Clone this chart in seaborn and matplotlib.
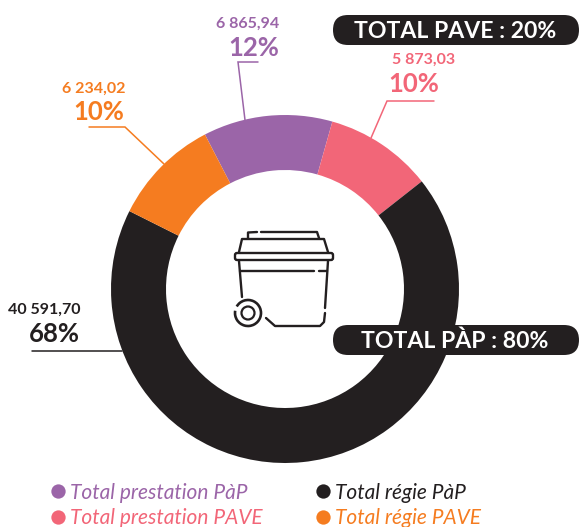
import matplotlib
matplotlib.use("Agg")
import matplotlib.pyplot as plt
import seaborn as sns
from matplotlib.lines import Line2D
from matplotlib.patches import Arc, Circle, FancyBboxPatch

# values, clockwise from the purple slice
categories = ["Total prestation PàP", "Total prestation PAVE", "Total régie PàP", "Total régie PAVE"]
percents = [12, 10, 68, 10]
value_labels = ["6 865,94", "5 873,03", "40 591,70", "6 234,02"]
colors = ["#9b65a8", "#f26678", "#231f20", "#f57c20"]
totals = ["TOTAL PAVE : 20%", "TOTAL PÀP : 80%"]

W, H = 579, 527
sns.set_theme(style="white")
plt.rcParams["font.family"] = ["Lato", "DejaVu Sans"]

fig = plt.figure(figsize=(W / 100, H / 100), dpi=100)
ax = fig.add_axes([0, 0, 1, 1])


def py(y):
    # picture coordinates have y going down
    return H - y


cx, cy, radius, ring = 285, py(289), 174, 55
ax.pie(percents, colors=colors, center=(cx, cy), radius=radius, startangle=117.4, counterclock=False,
       wedgeprops={"width": ring, "linewidth": 0}, frame=True)
ax.set_xlim(0, W)
ax.set_ylim(0, H)
ax.set_aspect("equal")
ax.axis("off")

# leader lines, one per slice
leaders = [
    [(245, 120), (238, 62), (258, 62)],
    [(371, 138), (387, 101), (434, 101)],
    [(122, 350.5), (32, 350.5)],
    [(164, 164), (125, 127), (89, 127)],
]
for pts, c in zip(leaders, colors):
    ax.plot([p[0] for p in pts], [py(p[1]) for p in pts], color=c, lw=1.1, solid_joinstyle="miter")

# value + percent labels (right edge and centre line of each)
label_pos = [(279, 24, 279, 47.5), (455, 60, 439, 84.5), (80, 310, 80, 333.5), (125, 89, 124, 112.5)]
for i, (x1, y1, x2, y2) in enumerate(label_pos):
    ax.text(x1, py(y1), value_labels[i], color=colors[i], fontsize=11.5, fontweight="bold", ha="right", va="center")
    ax.text(x2, py(y2), f"{percents[i]}%", color=colors[i], fontsize=18.5, fontweight="bold", ha="right", va="center")

# total pills
for label, y in zip(totals, [30, 340]):
    ax.add_patch(FancyBboxPatch((333, py(y) - 15), 246, 30, boxstyle="round,pad=0,rounding_size=15",
                                fc="#231f20", ec="none", zorder=3))
    ax.text(455, py(y + 1.5), label, color="white", fontsize=16.6, fontweight="bold", ha="center", va="center", zorder=4)

# bin icon in the middle of the ring
k = "#231f20"
icon = [
    [(248, 238), (248, 232.5), (257, 232)],
    [(261, 232), (317, 232), (319, 238)],
    [(239, 252), (242, 239), (324, 239), (328, 252)],
    [(240, 271), (314, 271)],
    [(319, 271), (327, 271)],
    [(239, 261), (242, 297)],
    [(328, 261), (325, 308)],
    [(325, 313), (324, 322), (320, 326), (275, 326), (266, 318)],
]
for pts in icon:
    ax.plot([p[0] for p in pts], [py(p[1]) for p in pts], color=k, lw=1.7, solid_capstyle="round")
ax.add_patch(FancyBboxPatch((235, py(260)), 98, 7, boxstyle="round,pad=0,rounding_size=2", fc="none", ec=k, lw=1.7))
ax.add_patch(Circle((248, py(313)), 6.5, fc="none", ec=k, lw=1.6))
ax.add_patch(Arc((248, py(313)), 26, 26, theta1=170, theta2=150, color=k, lw=1.9))

# legend, filled column by column
handles = [Line2D([], [], ls="", marker="o", ms=10.3, mfc=c, mec="none", label=name)
           for name, c in zip(categories, colors)]
leg = ax.legend(handles=handles, ncols=2, loc="lower left", bbox_to_anchor=(47.6 / W, -1 / H), frameon=False,
                prop={"size": 15, "style": "italic"}, labelcolor=colors, handlelength=1,
                handletextpad=0.08, columnspacing=2.4, labelspacing=0.26, borderpad=0, borderaxespad=0)

fig.savefig("out.png", dpi=100)
